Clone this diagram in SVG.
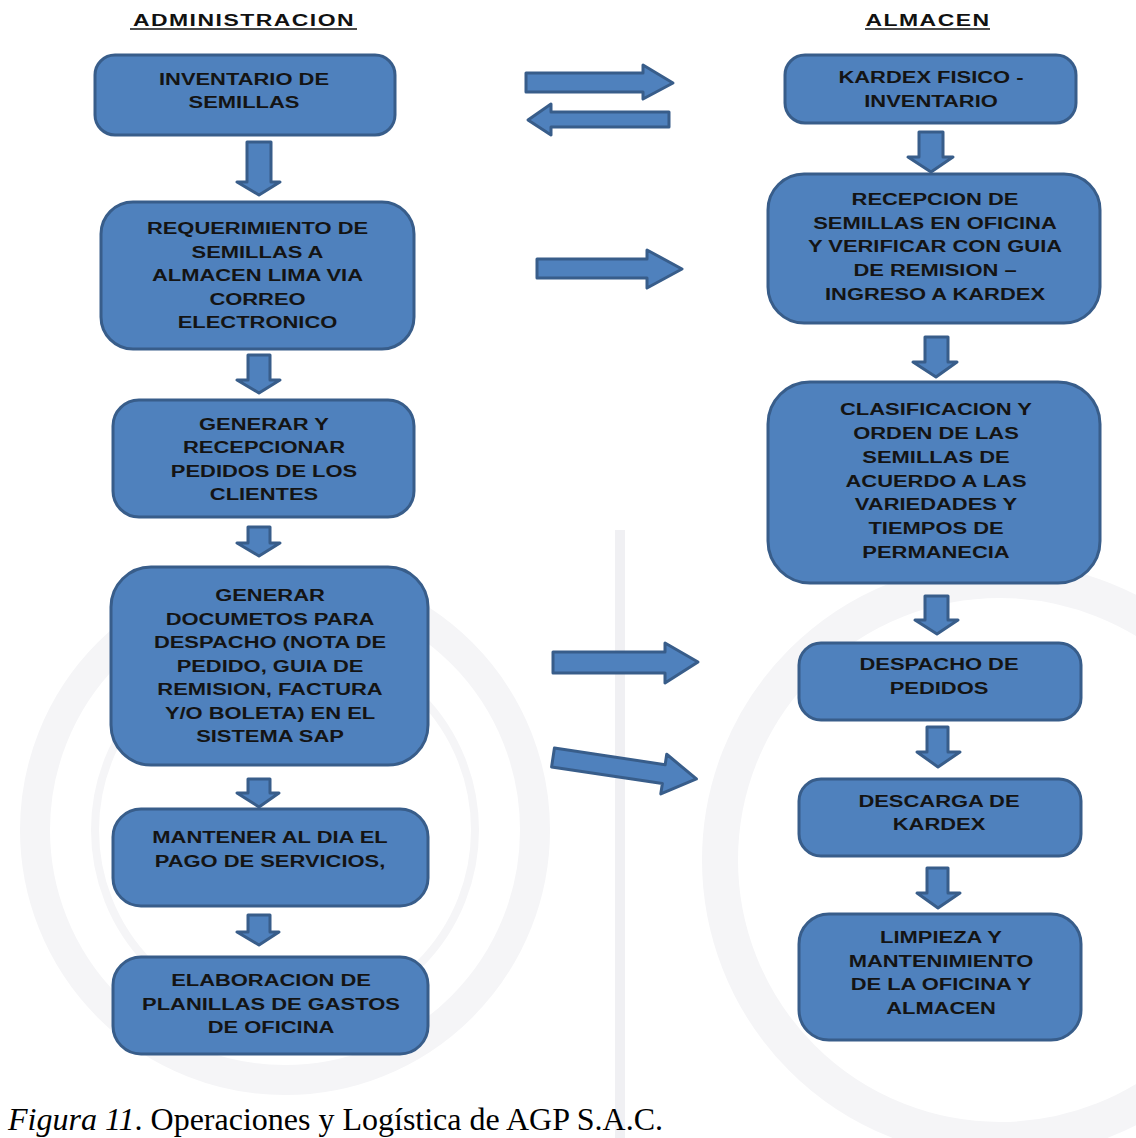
<svg xmlns="http://www.w3.org/2000/svg" width="1136" height="1138" viewBox="0 0 1136 1138">
  <style>
    .box { fill: #4F81BD; stroke: #385D8A; stroke-width: 3; }
    .arr { fill: #4F81BD; stroke: #385D8A; stroke-width: 3; stroke-linejoin: round; }
    .lbl { font-family: "Liberation Sans", Arial, sans-serif; font-size: 17px; font-weight: bold; fill: #141414; text-anchor: middle; }
    .head { font-family: "Liberation Sans", Arial, sans-serif; font-size: 17px; font-weight: bold; fill: #111; text-anchor: middle; letter-spacing: 1.1px; }
    .cap { font-family: "Liberation Serif", "Times New Roman", serif; font-size: 32px; fill: #000; }
    .wm { fill: none; stroke: #f5f5f7; }
  </style>

  <rect width="1136" height="1138" fill="#ffffff"/>

  <!-- faint background seal -->
  <g id="watermark">
    <circle class="wm" cx="285" cy="830" r="250" stroke-width="30"/>
    <circle class="wm" cx="285" cy="830" r="190" stroke-width="8"/>
    <circle class="wm" cx="1000" cy="860" r="280" stroke-width="36"/>
    <rect x="615" y="530" width="10" height="608" fill="#f0f0f3"/>
  </g>

  <!-- column headings -->
  <g id="heading-admin">
    <g transform="translate(244 0) scale(1.35 1)"><text class="head" x="0" y="26">ADMINISTRACION</text></g>
    <line x1="130" y1="29" x2="357" y2="29" stroke="#111" stroke-width="1.5"/>
  </g>
  <g id="heading-almacen">
    <g transform="translate(928 0) scale(1.35 1)"><text class="head" x="0" y="26">ALMACEN</text></g>
    <line x1="865" y1="29" x2="990" y2="29" stroke="#111" stroke-width="1.5"/>
  </g>

  <!-- connectors -->
  <g id="connectors">
    <!-- left column, downward -->
    <polygon class="arr" points="247,142 271,142 271,182 280,182 259,195 237,182 247,182"/>
    <polygon class="arr" points="248,355 270,355 270,380 280,380 259,393 237,380 248,380"/>
    <polygon class="arr" points="248,527 270,527 270,543 280,543 259,556 237,543 248,543"/>
    <polygon class="arr" points="248,779 270,779 270,793 279,793 259,807 237,793 248,793"/>
    <polygon class="arr" points="248,915 270,915 270,932 279,932 259,945 237,932 248,932"/>
    <!-- right column, downward -->
    <polygon class="arr" points="919,132 943,132 943,157 953,157 931,172 908,157 919,157"/>
    <polygon class="arr" points="925,337 948,337 948,362 957,362 936,377 913,362 925,362"/>
    <polygon class="arr" points="925,596 948,596 948,620 958,620 937,634 915,620 925,620"/>
    <polygon class="arr" points="927,727 948,727 948,752 960,752 938,767 917,752 927,752"/>
    <polygon class="arr" points="927,868 948,868 948,893 960,893 938,908 917,893 927,893"/>
    <!-- between columns -->
    <polygon class="arr" points="526,73 643,73 643,65 673,83 643,99 643,92 526,92"/>
    <polygon class="arr" points="669,112 551,112 551,104 528,120 551,135 551,127 669,127"/>
    <polygon class="arr" points="537,259 647,259 647,250 682,269 647,288 647,278 537,278"/>
    <polygon class="arr" points="553,652 665,652 665,643 698,662 665,683 665,673 553,673"/>
    <g transform="translate(553 757.5) rotate(8.5)">
      <polygon class="arr" points="0,-9.5 112,-9.5 112,-20 145,0 112,20 112,9.5 0,9.5"/>
    </g>
  </g>

  <!-- ADMINISTRACION column -->
  <g id="inventario-semillas">
    <rect class="box" x="95" y="55" width="300" height="80" rx="20"/>
    <g transform="translate(244 0) scale(1.29 1)">
      <text class="lbl" x="0" y="85.5">INVENTARIO DE</text>
      <text class="lbl" x="0" y="108.5">SEMILLAS</text>
    </g>
  </g>
  <g id="requerimiento">
    <rect class="box" x="101" y="202" width="313" height="147" rx="32"/>
    <g transform="translate(257.5 0) scale(1.29 1)">
      <text class="lbl" x="0" y="234.5">REQUERIMIENTO DE</text>
      <text class="lbl" x="0" y="258">SEMILLAS A</text>
      <text class="lbl" x="0" y="281.5">ALMACEN LIMA VIA</text>
      <text class="lbl" x="0" y="305">CORREO</text>
      <text class="lbl" x="0" y="328.5">ELECTRONICO</text>
    </g>
  </g>
  <g id="pedidos-clientes">
    <rect class="box" x="113" y="400" width="301" height="117" rx="26"/>
    <g transform="translate(264 0) scale(1.29 1)">
      <text class="lbl" x="0" y="430">GENERAR Y</text>
      <text class="lbl" x="0" y="453.5">RECEPCIONAR</text>
      <text class="lbl" x="0" y="477">PEDIDOS DE LOS</text>
      <text class="lbl" x="0" y="500.5">CLIENTES</text>
    </g>
  </g>
  <g id="documentos-despacho">
    <rect class="box" x="111" y="567" width="317" height="198" rx="40"/>
    <g transform="translate(270 0) scale(1.29 1)">
      <text class="lbl" x="0" y="601.5">GENERAR</text>
      <text class="lbl" x="0" y="625">DOCUMETOS PARA</text>
      <text class="lbl" x="0" y="648.5">DESPACHO (NOTA DE</text>
      <text class="lbl" x="0" y="672">PEDIDO, GUIA DE</text>
      <text class="lbl" x="0" y="695.5">REMISION, FACTURA</text>
      <text class="lbl" x="0" y="719">Y/O BOLETA) EN EL</text>
      <text class="lbl" x="0" y="742.5">SISTEMA SAP</text>
    </g>
  </g>
  <g id="pago-servicios">
    <rect class="box" x="113" y="809" width="315" height="97" rx="28"/>
    <g transform="translate(270 0) scale(1.29 1)">
      <text class="lbl" x="0" y="843.5">MANTENER AL DIA EL</text>
      <text class="lbl" x="0" y="867">PAGO DE SERVICIOS,</text>
    </g>
  </g>
  <g id="planillas-gastos">
    <rect class="box" x="113" y="957" width="315" height="97" rx="28"/>
    <g transform="translate(271 0) scale(1.29 1)">
      <text class="lbl" x="0" y="986.5">ELABORACION DE</text>
      <text class="lbl" x="0" y="1010">PLANILLAS DE GASTOS</text>
      <text class="lbl" x="0" y="1033.5">DE OFICINA</text>
    </g>
  </g>

  <!-- ALMACEN column -->
  <g id="kardex-fisico">
    <rect class="box" x="785" y="55" width="291" height="68" rx="20"/>
    <g transform="translate(931 0) scale(1.29 1)">
      <text class="lbl" x="0" y="83.5">KARDEX FISICO -</text>
      <text class="lbl" x="0" y="107">INVENTARIO</text>
    </g>
  </g>
  <g id="recepcion-semillas">
    <rect class="box" x="768" y="174" width="332" height="149" rx="36"/>
    <g transform="translate(935 0) scale(1.29 1)">
      <text class="lbl" x="0" y="205">RECEPCION DE</text>
      <text class="lbl" x="0" y="229">SEMILLAS EN OFICINA</text>
      <text class="lbl" x="0" y="252.5">Y VERIFICAR CON GUIA</text>
      <text class="lbl" x="0" y="276.5">DE REMISION –</text>
      <text class="lbl" x="0" y="300">INGRESO A KARDEX</text>
    </g>
  </g>
  <g id="clasificacion">
    <rect class="box" x="768" y="382" width="332" height="201" rx="42"/>
    <g transform="translate(936 0) scale(1.29 1)">
      <text class="lbl" x="0" y="415.5">CLASIFICACION Y</text>
      <text class="lbl" x="0" y="439.5">ORDEN DE LAS</text>
      <text class="lbl" x="0" y="463">SEMILLAS DE</text>
      <text class="lbl" x="0" y="487">ACUERDO A LAS</text>
      <text class="lbl" x="0" y="510.5">VARIEDADES Y</text>
      <text class="lbl" x="0" y="534.5">TIEMPOS DE</text>
      <text class="lbl" x="0" y="558">PERMANECIA</text>
    </g>
  </g>
  <g id="despacho-pedidos">
    <rect class="box" x="799" y="643" width="282" height="77" rx="22"/>
    <g transform="translate(939 0) scale(1.29 1)">
      <text class="lbl" x="0" y="670.5">DESPACHO DE</text>
      <text class="lbl" x="0" y="694">PEDIDOS</text>
    </g>
  </g>
  <g id="descarga-kardex">
    <rect class="box" x="799" y="779" width="282" height="77" rx="22"/>
    <g transform="translate(939 0) scale(1.29 1)">
      <text class="lbl" x="0" y="807">DESCARGA DE</text>
      <text class="lbl" x="0" y="830.5">KARDEX</text>
    </g>
  </g>
  <g id="limpieza">
    <rect class="box" x="799" y="914" width="282" height="126" rx="30"/>
    <g transform="translate(941 0) scale(1.29 1)">
      <text class="lbl" x="0" y="943.5">LIMPIEZA Y</text>
      <text class="lbl" x="0" y="967">MANTENIMIENTO</text>
      <text class="lbl" x="0" y="990.5">DE LA OFICINA Y</text>
      <text class="lbl" x="0" y="1014">ALMACEN</text>
    </g>
  </g>

  <!-- caption -->
  <text class="cap" x="8" y="1130"><tspan font-style="italic">Figura 11</tspan>. Operaciones y Logística de AGP S.A.C.</text>
</svg>
